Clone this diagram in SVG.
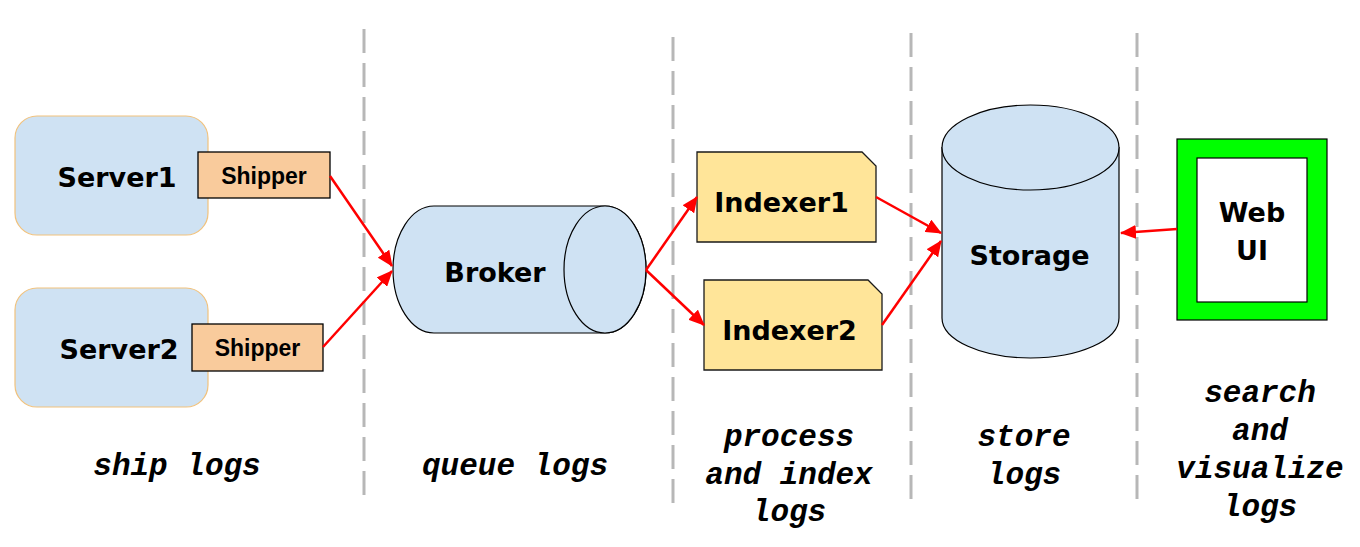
<svg xmlns="http://www.w3.org/2000/svg" width="1360" height="547" viewBox="0 0 1360 547">
<style>
.node-label{font-family:"Comic Sans MS","DejaVu Sans",sans-serif;font-weight:bold;font-size:27px;fill:#000;text-anchor:middle}
.ship-label{font-family:"Liberation Sans",Arial,sans-serif;font-weight:bold;font-size:23px;fill:#000;text-anchor:middle}
.stage{font-family:"Liberation Mono","Courier New",monospace;font-weight:bold;font-style:italic;font-size:31px;fill:#000;text-anchor:middle}
.server{fill:#cfe2f3;stroke:#f1c27d;stroke-width:1.2}
.shipper{fill:#f9cb9c;stroke:#000;stroke-width:1.3}
.indexer{fill:#ffe599;stroke:#1a1a1a;stroke-width:1.3}
.cyl{fill:#cfe2f3;stroke:#000;stroke-width:1.2}
.divider{stroke:#b7b7b7;stroke-width:3;stroke-dasharray:24 10;fill:none}
.conn{stroke:#ff0000;stroke-width:2.5;fill:none;marker-end:url(#ah)}
</style>
<defs>
<marker id="ah" markerUnits="userSpaceOnUse" markerWidth="16" markerHeight="14" refX="15" refY="7" orient="auto">
<path d="M0,0 L16,7 L0,14 Z" fill="#ff0000"/>
</marker>
</defs>
<rect width="1360" height="547" fill="#ffffff"/>
<g id="dividers">
<line class="divider" x1="364" y1="29" x2="364" y2="502"/>
<line class="divider" x1="673" y1="37" x2="673" y2="508"/>
<line class="divider" x1="911" y1="33" x2="911" y2="505"/>
<line class="divider" x1="1137" y1="33" x2="1137" y2="505"/>
</g>
<g id="server1">
<rect class="server" x="15" y="116" width="193" height="119" rx="22"/>
<text class="node-label" x="117" y="187">Server1</text>
</g>
<g id="shipper1">
<rect class="shipper" x="198" y="152" width="132" height="46"/>
<text class="ship-label" x="264" y="184">Shipper</text>
</g>
<g id="server2">
<rect class="server" x="15" y="288" width="193" height="119" rx="22"/>
<text class="node-label" x="119" y="359">Server2</text>
</g>
<g id="shipper2">
<rect class="shipper" x="192" y="324" width="131" height="47"/>
<text class="ship-label" x="257.5" y="356">Shipper</text>
</g>
<g id="broker">
<path class="cyl" d="M434,206 L605,206 A41,63.5 0 0 1 605,333 L434,333 A41,63.5 0 0 1 434,206 Z"/>
<ellipse class="cyl" cx="605" cy="269.5" rx="41" ry="63.5"/>
<text class="node-label" x="495" y="282">Broker</text>
</g>
<g id="indexer1">
<polygon class="indexer" points="697,152 862,152 876,166 876,242 697,242"/>
<text class="node-label" x="781.5" y="212">Indexer1</text>
</g>
<g id="indexer2">
<polygon class="indexer" points="704,280 868,280 882,294 882,370 704,370"/>
<text class="node-label" x="789.5" y="340">Indexer2</text>
</g>
<g id="storage">
<path class="cyl" d="M942,147.5 L942,318 A88.5,40 0 0 0 1119,318 L1119,147.5 Z"/>
<ellipse class="cyl" cx="1030.5" cy="147.5" rx="88.5" ry="42.5"/>
<text class="node-label" x="1029.5" y="265">Storage</text>
</g>
<g id="webui">
<rect x="1177" y="139" width="150" height="181" fill="#00ff00" stroke="#000" stroke-width="1.2"/>
<rect x="1197" y="158" width="110" height="144" fill="#ffffff" stroke="#000" stroke-width="1.2"/>
<text class="node-label" x="1252" y="222" font-size="28">Web</text>
<text class="node-label" x="1252" y="260" font-size="28">UI</text>
</g>
<g id="connectors">
<path class="conn" d="M330,176 L392,266"/>
<path class="conn" d="M323,347 L392,271"/>
<path class="conn" d="M646,270 L697,197"/>
<path class="conn" d="M646,270 L704,325"/>
<path class="conn" d="M876,197 L941,233"/>
<path class="conn" d="M882,325 L941,241"/>
<path class="conn" d="M1177,229 L1121,233"/>
</g>
<g id="stage-labels">
<text class="stage" x="177" y="475">ship logs</text>
<text class="stage" x="515" y="475">queue logs</text>
<text class="stage" x="789" y="446">process</text>
<text class="stage" x="789" y="484">and index</text>
<text class="stage" x="789" y="521">logs</text>
<text class="stage" x="1024" y="446">store</text>
<text class="stage" x="1024" y="484">logs</text>
<text class="stage" x="1260" y="402">search</text>
<text class="stage" x="1260" y="440">and</text>
<text class="stage" x="1260" y="478">visualize</text>
<text class="stage" x="1260" y="516">logs</text>
</g>
</svg>
